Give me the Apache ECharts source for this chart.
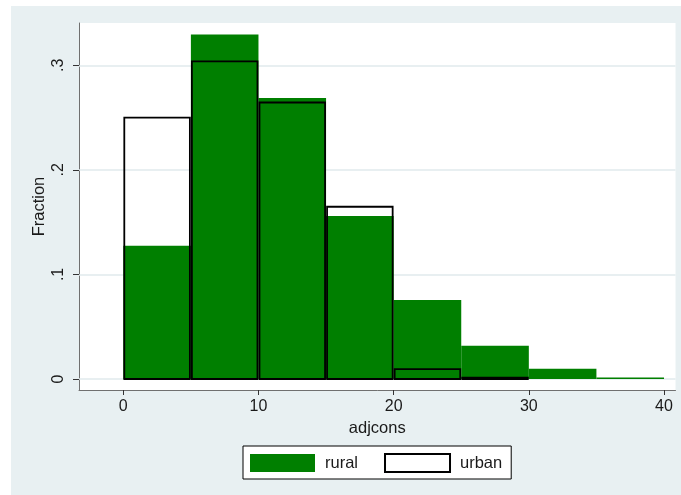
<!DOCTYPE html>
<html>
<head>
<meta charset="utf-8">
<title>adjcons histogram</title>
<script src="https://cdn.jsdelivr.net/npm/echarts@6/dist/echarts.min.js"></script>
<style>
  html, body { margin: 0; padding: 0; background: #ffffff; }
  #chart { position: absolute; left: 11px; top: 6px; width: 670px; height: 489px; }
</style>
</head>
<body>
<div id="chart"></div>
<script>
// Histogram bins of adjcons (width 5) and the fraction of households per bin
const binEdges = [0, 5, 10, 15, 20, 25, 30, 35, 40];
const ruralFraction = [0.1275, 0.3293, 0.2687, 0.1559, 0.0755, 0.0319, 0.0099, 0.0015];
const urbanFraction = [0.2499, 0.3038, 0.2644, 0.1647, 0.0094, 0.0012];

// Axis ticks and their labels
const xTickValues = [0, 10, 20, 30, 40];
const yTickValues = [0, 0.1, 0.2, 0.3];
const yTickLabels = ['0', '.1', '.2', '.3'];

const seriesNames = ['rural', 'urban'];
const xTitle = 'adjcons';
const yTitle = 'Fraction';

const FONT = '"Liberation Sans", Arial, sans-serif';
const TEXT = '#1a1a1a';
const GREEN = '#007F00';

function toBins(values) {
  return values.map((v, i) => [binEdges[i], binEdges[i + 1], v]);
}

function barRenderer(filled) {
  return function (params, api) {
    const x0 = api.value(0), x1 = api.value(1), h = api.value(2);
    const topLeft = api.coord([x0, h]);
    const bottomRight = api.coord([x1, 0]);
    const inset = filled ? 0 : 1;
    return {
      type: 'rect',
      shape: {
        x: topLeft[0] + inset,
        y: topLeft[1],
        width: bottomRight[0] - topLeft[0] - 2 * inset,
        height: bottomRight[1] - topLeft[1]
      },
      style: filled
        ? { fill: GREEN, stroke: null }
        : { fill: 'none', stroke: '#000000', lineWidth: 1.8 }
    };
  };
}

const chart = echarts.init(document.getElementById('chart'), null, { renderer: 'canvas' });

const gridBox = { left: 68, top: 17, right: 5.5, bottom: 105 };

chart.setOption({
  animation: false,
  backgroundColor: '#E8F0F2',
  textStyle: { fontFamily: FONT },
  grid: {
    left: gridBox.left, top: gridBox.top, right: gridBox.right, bottom: gridBox.bottom,
    show: true, backgroundColor: '#ffffff', borderWidth: 0,
    containLabel: false
  },
  // vertical axis title, set beside the rotated tick labels
  graphic: [{
    type: 'text',
    x: 28,
    y: gridBox.top + (489 - gridBox.top - gridBox.bottom) / 2,
    rotation: Math.PI / 2,
    style: {
      text: yTitle,
      align: 'center',
      verticalAlign: 'middle',
      fontSize: 16.5,
      fontFamily: FONT,
      fill: TEXT
    }
  }],
  xAxis: {
    type: 'value',
    min: -3.277, max: 40.85,
    name: xTitle,
    nameLocation: 'middle',
    nameGap: 29,
    nameTextStyle: { fontSize: 16.5, color: TEXT, fontFamily: FONT },
    axisLine: { show: true, onZero: false, lineStyle: { color: '#707070', width: 1 } },
    axisTick: { show: true, customValues: xTickValues, length: 5, lineStyle: { color: '#333333', width: 1 } },
    axisLabel: { customValues: xTickValues, margin: 9, fontSize: 16, color: TEXT, fontFamily: FONT },
    splitLine: { show: false }
  },
  yAxis: {
    type: 'value',
    min: -0.01052, max: 0.3404,
    axisLine: { show: true, onZero: false, lineStyle: { color: '#707070', width: 1 } },
    axisTick: { show: true, customValues: yTickValues, length: 6, lineStyle: { color: '#333333', width: 1 } },
    axisLabel: {
      customValues: yTickValues,
      rotate: 90,
      margin: 12,
      fontSize: 16,
      color: TEXT,
      fontFamily: FONT,
      formatter: function (v) {
        let best = 0;
        yTickValues.forEach((t, i) => { if (Math.abs(t - v) < Math.abs(yTickValues[best] - v)) best = i; });
        return yTickLabels[best];
      }
    },
    splitLine: { show: false }
  },
  legend: {
    left: 232, top: 440,
    orient: 'horizontal',
    backgroundColor: '#ffffff',
    borderColor: '#000000',
    borderWidth: 1,
    borderRadius: 0,
    padding: [7, 9, 6, 7],
    itemWidth: 65,
    itemHeight: 18,
    itemGap: 26,
    selectedMode: false,
    textStyle: { fontSize: 16.5, color: TEXT, fontFamily: FONT, padding: [0, 0, 0, 5] },
    data: [
      { name: seriesNames[0], icon: 'rect', itemStyle: { color: GREEN, borderWidth: 0 } },
      { name: seriesNames[1], icon: 'rect', itemStyle: { color: '#ffffff', borderColor: '#000000', borderWidth: 2 } }
    ]
  },
  series: [
    {
      // horizontal grid lines at the y ticks, kept beneath the bars
      type: 'line',
      name: 'grid lines',
      data: [],
      z: 1,
      silent: true,
      markLine: {
        z: 1,
        silent: true,
        symbol: ['none', 'none'],
        label: { show: false },
        lineStyle: { color: '#E1EAED', width: 1.5, type: 'solid' },
        data: yTickValues.map(v => ({ yAxis: v }))
      }
    },
    {
      type: 'custom',
      name: seriesNames[0],
      z: 10,
      itemStyle: { color: GREEN },
      renderItem: barRenderer(true),
      encode: { x: [0, 1], y: 2 },
      data: toBins(ruralFraction)
    },
    {
      type: 'custom',
      name: seriesNames[1],
      z: 11,
      itemStyle: { color: '#ffffff', borderColor: '#000000', borderWidth: 2 },
      renderItem: barRenderer(false),
      encode: { x: [0, 1], y: 2 },
      data: toBins(urbanFraction)
    }
  ]
});
</script>
</body>
</html>
